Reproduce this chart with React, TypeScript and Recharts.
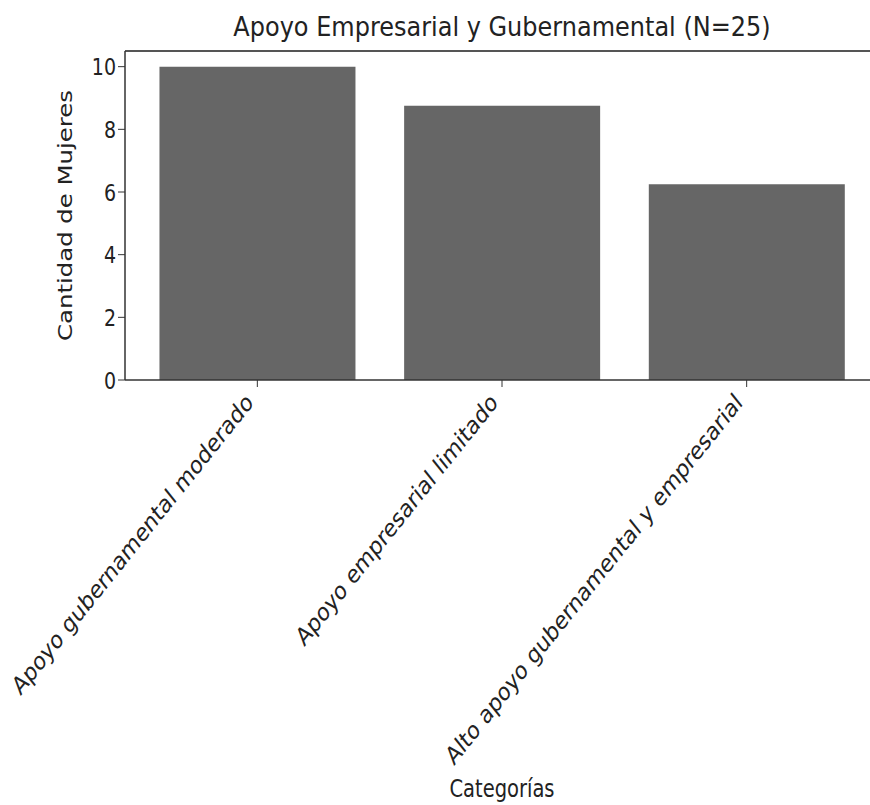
import React from "react";
import {
  BarChart,
  Bar,
  XAxis,
  YAxis,
  ReferenceLine,
  Customized,
  Label,
} from "recharts";

// Apoyo Empresarial y Gubernamental (N=25)

const categories = [
  "Apoyo gubernamental moderado",
  "Apoyo empresarial limitado",
  "Alto apoyo gubernamental y empresarial",
];
const counts = [10, 8.75, 6.25];
const yTicks = [0, 2, 4, 6, 8, 10];

const data = categories.map((name, i) => ({ name, value: counts[i] }));

const FONT = "DejaVu Sans, sans-serif";
const TEXT = "#222";
const STRETCH = 1.25; // the reference is squashed horizontally

function XTick(props: any) {
  const { x, y, payload } = props;
  return (
    <g transform={`translate(${x},${y})`}>
      <text
        transform={`translate(-3,15) scale(1,${STRETCH}) rotate(-45)`}
        textAnchor="end"
        fontSize={20}
        fontFamily={FONT}
        fill={TEXT}
      >
        {payload.value}
      </text>
    </g>
  );
}

function YTick(props: any) {
  const { x, y, payload } = props;
  return (
    <text
      transform={`translate(${x},${y}) scale(1,${STRETCH})`}
      textAnchor="end"
      dy="0.36em"
      fontSize={19}
      fontFamily={FONT}
      fill={TEXT}
    >
      {payload.value}
    </text>
  );
}

function Title(props: any) {
  const off = props.offset || {};
  const cx = (off.left ?? 125) + (off.width ?? 754) / 2;
  return (
    <text
      transform={`translate(${cx},36) scale(1,1.1)`}
      textAnchor="middle"
      fontSize={24}
      fontFamily={FONT}
      fill={TEXT}
    >
      Apoyo Empresarial y Gubernamental (N=25)
    </text>
  );
}

export default function App() {
  return (
    <div
      style={{
        position: "absolute",
        left: 0,
        top: 0,
        width: 870,
        height: 805,
        overflow: "hidden",
        background: "#fff",
      }}
    >
      <BarChart
        width={890}
        height={805}
        data={data}
        margin={{ top: 51, right: 11, left: 65, bottom: 25 }}
        barCategoryGap="10%"
      >
        <XAxis
          dataKey="name"
          interval={0}
          height={400}
          padding={{ left: 10, right: 10 }}
          tick={<XTick />}
          tickSize={7}
          axisLine={{ stroke: "#333", strokeWidth: 1.5 }}
          tickLine={{ stroke: "#333" }}
        >
          <Label
            content={(p: any) => {
              const vb = p.viewBox || {};
              return (
                <text
                  transform={`translate(${vb.x + vb.width / 2},797) scale(1,${STRETCH})`}
                  textAnchor="middle"
                  fontSize={19.5}
                  fontFamily={FONT}
                  fill={TEXT}
                >
                  Categorías
                </text>
              );
            }}
          />
        </XAxis>
        <YAxis
          width={60}
          domain={[0, 10.5]}
          ticks={yTicks}
          tick={<YTick />}
          tickSize={7}
          tickMargin={2}
          axisLine={{ stroke: "#333", strokeWidth: 1.5 }}
          tickLine={{ stroke: "#333" }}
        >
          <Label
            content={(p: any) => {
              const vb = p.viewBox || {};
              return (
                <text
                  transform={`translate(65,${vb.y + vb.height / 2}) scale(1,${STRETCH}) rotate(-90)`}
                  textAnchor="middle"
                  dominantBaseline="central"
                  fontSize={19.5}
                  fontFamily={FONT}
                  fill={TEXT}
                >
                  Cantidad de Mujeres
                </text>
              );
            }}
          />
        </YAxis>
        <ReferenceLine y={10.5} stroke="#555" strokeWidth={2} />
        <Bar dataKey="value" fill="#666666" isAnimationActive={false} />
        <Customized component={Title} />
      </BarChart>
    </div>
  );
}
